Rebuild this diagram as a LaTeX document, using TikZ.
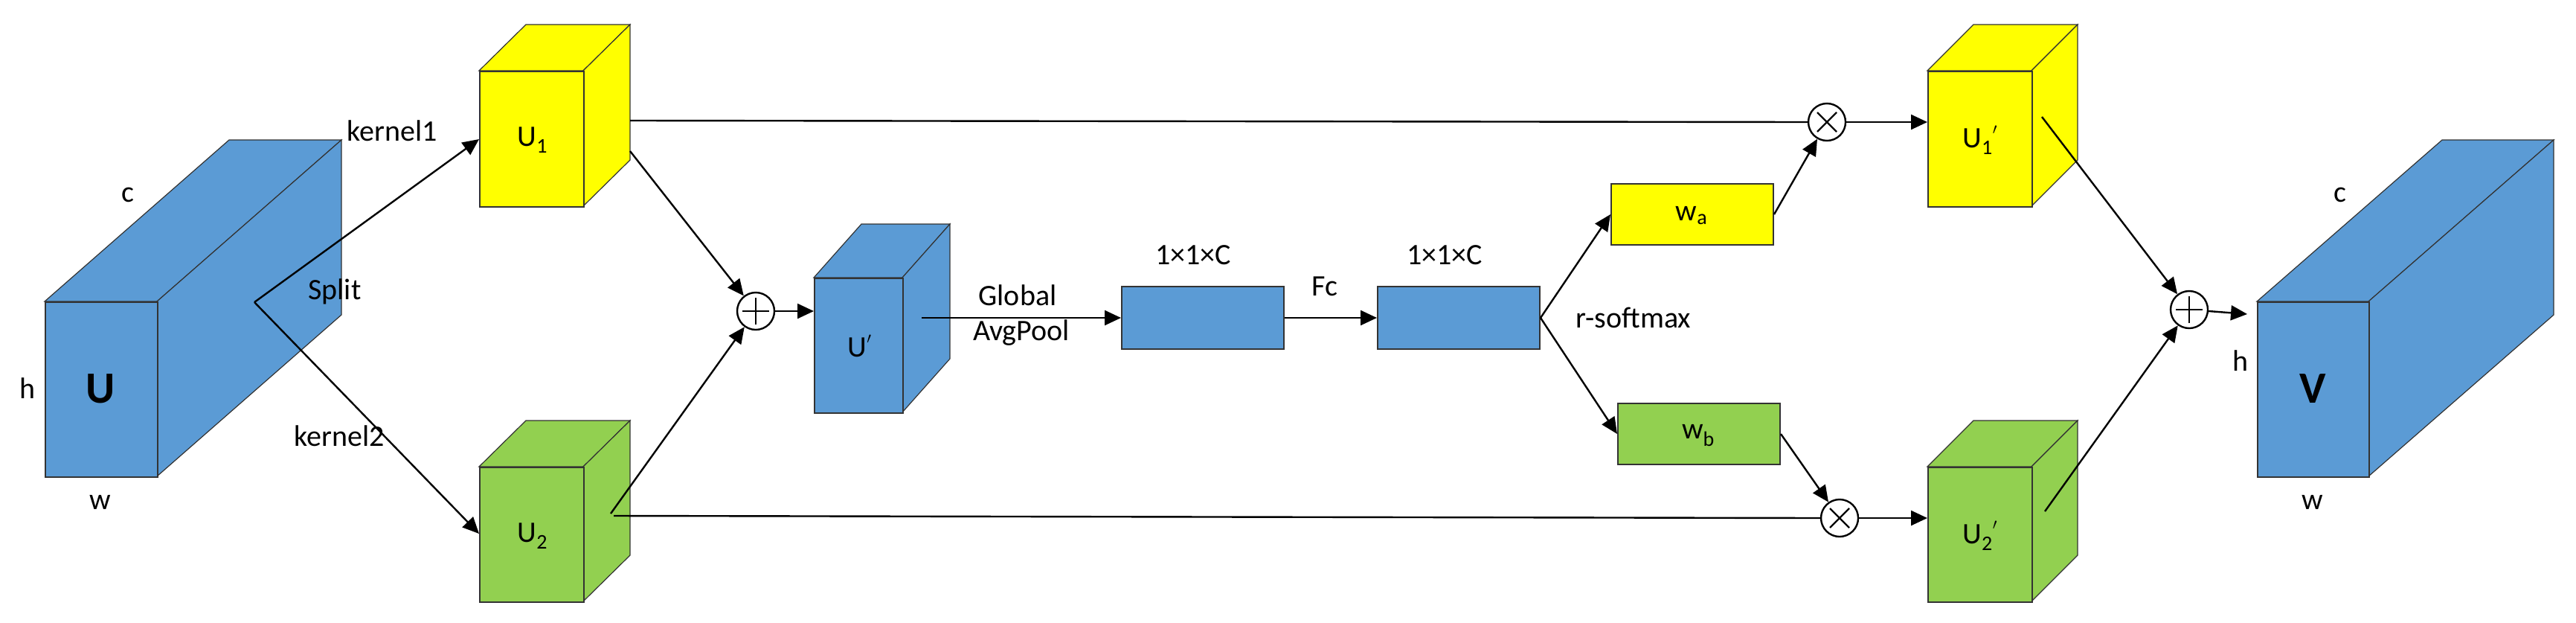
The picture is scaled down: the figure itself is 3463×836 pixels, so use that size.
\documentclass[tikz,border=0pt]{standalone}
\usepackage{fontspec}
\setmainfont{Carlito}
\usetikzlibrary{arrows.meta}
\definecolor{cblue}{HTML}{5B9BD5}
\definecolor{cyel}{HTML}{FFFF00}
\definecolor{cgrn}{HTML}{92D050}
\tikzset{
  face/.style={draw=black!80, line width=1.2pt},
  conn/.style={line width=2.4pt, -{Triangle[length=22pt,width=20pt]}},
  line/.style={line width=2.4pt},
  op/.style={circle, draw, line width=2.4pt, minimum size=50pt, inner sep=0pt},
  lbl/.style={font=\fontsize{40}{44}\selectfont},
  big/.style={font=\fontsize{60}{64}\selectfont\bfseries},
  box/.style={draw=black!80, line width=2pt, anchor=north west, inner sep=0pt},
}
% #1 name, #2 x1, #3 y1, #4 x2, #5 y2 (front face), #6 dx, #7 dy, #8 colour
\newcommand{\mycuboid}[8]{%
  \fill[#8, face] (#2,#3) -- ++(#6,#7) -- (#4+#6,#3+#7) -- (#4,#3) -- cycle;
  \fill[#8, face] (#4,#3) -- (#4+#6,#3+#7) -- (#4+#6,#5+#7) -- (#4,#5) -- cycle;
  \node[box, fill=#8, minimum width={(#4-#2)*1pt}, minimum height={(#5-#3)*1pt}] (#1) at (#2,#3) {};
}
\newcommand{\myplus}[1]{\draw[line width=2.4pt] ([yshift=-18pt]#1.center) -- ([yshift=18pt]#1.center) ([xshift=-18pt]#1.center) -- ([xshift=18pt]#1.center);}
\newcommand{\mytimes}[1]{\draw[line width=2.4pt] ([shift={(-13pt,-13pt)}]#1.center) -- ([shift={(13pt,13pt)}]#1.center) ([shift={(-13pt,13pt)}]#1.center) -- ([shift={(13pt,-13pt)}]#1.center);}
\begin{document}
\begin{tikzpicture}[x=1pt,y=-1pt]
\useasboundingbox (0,0) rectangle (3463,836);
% cuboids
\mycuboid{U}{60}{405}{211}{640}{248}{-217}{cblue}
\mycuboid{U1}{644}{95}{784}{277}{63}{-62}{cyel}
\mycuboid{U2}{644}{627}{784}{808}{63}{-62}{cgrn}
\mycuboid{Up}{1094}{373}{1213}{554}{64}{-72}{cblue}
\mycuboid{U1p}{2591}{95}{2731}{277}{62}{-62}{cyel}
\mycuboid{U2p}{2591}{627}{2731}{808}{62}{-62}{cgrn}
\mycuboid{V}{3034}{405}{3184}{640}{249}{-217}{cblue}
% flat boxes
\node[box, fill=cblue, minimum width=218pt, minimum height=84pt] (B1) at (1507,384) {};
\node[box, fill=cblue, minimum width=218pt, minimum height=84pt] (B2) at (1851,384) {};
\node[box, fill=cyel, minimum width=218pt, minimum height=82pt] (wa) at (2165,246) {};
\node[box, fill=cgrn, minimum width=218pt, minimum height=82pt] (wb) at (2174,541) {};
% texts
\node[big] at (135,522) {U};
\node[big] at (3109,522) {V};
\node[lbl] at (172,262) {c};
\node[lbl] at (37,522) {h};
\node[lbl] at (135,675) {w};
\node[lbl] at (3146,262) {c};
\node[lbl] at (3012,485) {h};
\node[lbl] at (3109,675) {w};
\node[lbl] at (716,188) {U\textsubscript{1}};
\node[lbl] at (716,720) {U\textsubscript{2}};
\node[lbl] at (1156,465) {U$^{'}$};
\node[lbl] at (2662,188) {U\textsubscript{1}$^{'}$};
\node[lbl] at (2662,720) {U\textsubscript{2}$^{'}$};
\node[lbl] at (2274,290) {w\textsubscript{a}};
\node[lbl] at (2283,585) {w\textsubscript{b}};
\node[lbl] at (527,176) {kernel1};
\node[lbl] at (450,392) {Split};
\node[lbl] at (456,586) {kernel2};
\node[lbl] at (1368,397) {Global};
\node[lbl] at (1373,447) {AvgPool};
\node[lbl] at (1604,343) {1×1×C};
\node[lbl] at (1942,343) {1×1×C};
\node[lbl] at (1781,385) {Fc};
\node[lbl] at (2196,427) {r-softmax};
% operators
\node[op] (p1) at (1016,418) {};
\myplus{p1}
\node[op] (p2) at (2943,416) {};
\myplus{p2}
\node[op] (m1) at (2456,164) {};
\mytimes{m1}
\node[op] (m2) at (2473,696) {};
\mytimes{m2}
% connectors
\coordinate (sp) at (342,406);
\coordinate (u1o) at (847,203);
\coordinate (u1h) at (847,162);
\coordinate (u2o) at (821,690);
\coordinate (u2h) at (825,693);
\coordinate (upo) at (1239,427);
\coordinate (u1po) at (2745,157);
\coordinate (u2po) at (2749,687);
\coordinate (vin) at (3021,422);
\draw[conn] (sp) -- (644,187);
\draw[conn] (sp) -- (644,717);
\draw[conn] (u1o) -- (p1);
\draw[conn] (u2o) -- (p1);
\draw[conn] (p1) -- (Up.west |- p1);
\draw[conn] (upo) -- (B1.west |- upo);
\draw[conn] (B1.east |- upo) -- (B2.west |- upo);
\draw[conn] (B2.east |- upo) -- (wa.west);
\draw[conn] (B2.east |- upo) -- (wb.west);
\draw[line] (u1h) -- (m1.west);
\draw[line] (u2h) -- (m2.west);
\draw[conn] (wa.east) -- (m1);
\draw[conn] (wb.east) -- (m2);
\draw[conn] (m1.east) -- (U1p.west |- m1);
\draw[conn] (m2.east) -- (U2p.west |- m2);
\draw[conn] (u1po) -- (p2);
\draw[conn] (u2po) -- (p2);
\draw[conn] (p2) -- (vin);
\end{tikzpicture}
\end{document}
